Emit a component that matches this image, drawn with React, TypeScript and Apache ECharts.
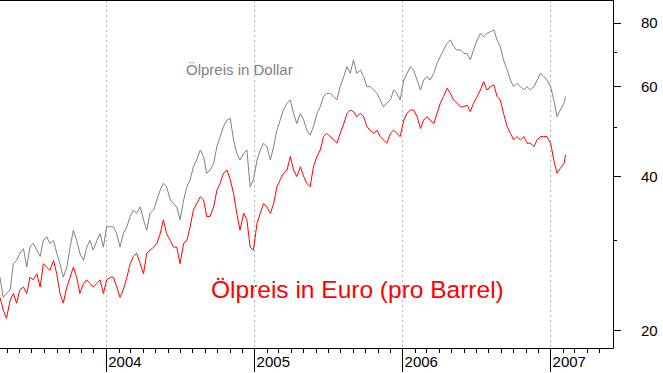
import React, { useEffect, useRef } from 'react';
import * as echarts from 'echarts';

// Sample dates: days after startDate
const startDate = '2003-04-14';
const axisStart = '2003-04-14';
const axisEnd = '2007-06-04';

const dayOffsets = [
  0, 8, 16, 25, 33, 41, 49, 58, 66, 74,
  82, 91, 99, 107, 115, 123, 132, 140, 148, 156,
  165, 173, 181, 189, 197, 206, 214, 222, 230, 239,
  247, 255, 263, 272, 280, 288, 296, 304, 313, 321,
  329, 337, 346, 354, 362, 370, 379, 387, 395, 403,
  411, 420, 428, 436, 444, 453, 461, 469, 477, 485,
  494, 502, 510, 518, 527, 535, 543, 551, 560, 568,
  576, 584, 592, 601, 609, 617, 625, 634, 642, 650,
  658, 667, 675, 683, 691, 699, 708, 716, 724, 732,
  741, 749, 757, 765, 773, 782, 790, 798, 806, 815,
  823, 831, 839, 848, 856, 864, 872, 880, 889, 897,
  905, 913, 922, 930, 938, 946, 954, 963, 971, 979,
  987, 996, 1004, 1012, 1020, 1029, 1037, 1045, 1053, 1061,
  1070, 1078, 1086, 1094, 1103, 1111, 1119, 1127, 1136, 1144,
  1152, 1160, 1168, 1177, 1185, 1193, 1201, 1210, 1218, 1226,
  1234, 1242, 1251, 1259, 1267, 1275, 1284, 1292, 1300, 1308,
  1317, 1325, 1333, 1341, 1349, 1358, 1366, 1374, 1382, 1391,
  1395,
];

const dollarPrices = [
  25.4, 23.2, 23.6, 24.0, 27.0, 27.4, 28.3, 28.9, 26.6, 29.1,
  29.6, 28.7, 27.9, 30.0, 30.5, 29.6, 30.0, 28.3, 27.0, 25.4,
  26.6, 29.1, 31.4, 30.0, 28.3, 27.4, 29.1, 30.0, 28.7, 30.0,
  30.9, 29.1, 31.9, 31.9, 31.9, 30.9, 29.1, 30.9, 31.9, 33.4,
  34.4, 33.9, 34.9, 32.9, 31.4, 33.9, 34.4, 36.0, 37.6, 38.8,
  38.2, 36.0, 35.4, 34.9, 32.9, 36.0, 38.2, 39.4, 41.8, 43.1,
  45.1, 43.8, 40.6, 41.2, 42.4, 45.8, 47.9, 50.1, 51.6, 52.0,
  47.2, 44.4, 43.1, 44.4, 45.1, 38.2, 39.4, 43.1, 45.1, 46.5,
  45.8, 43.1, 45.8, 49.3, 51.6, 54.0, 55.7, 56.5, 53.2, 50.8,
  53.2, 51.6, 49.3, 48.2, 50.1, 53.2, 54.8, 57.4, 58.2,
  58.2, 57.4, 56.5, 60.0, 62.8, 65.7, 63.7, 67.7, 63.7, 64.7,
  62.8, 60.0, 60.0, 59.1, 58.2, 56.5, 54.8, 55.7, 56.5, 59.1,
  58.2, 56.5, 61.8, 63.7, 65.7, 64.7, 61.8, 59.1, 61.8, 62.8,
  61.8, 63.7, 66.7, 68.7, 70.8, 73.0, 74.1, 71.9, 70.8, 70.8,
  69.7, 69.7, 67.7, 70.8, 74.1, 76.3, 75.2, 76.3, 76.9, 77.5,
  74.1, 71.9, 67.7, 64.7, 61.8, 60.0, 60.9, 60.0, 59.1, 60.0,
  59.1, 60.0, 61.8, 63.7, 62.8, 61.8, 60.0, 56.5, 52.4, 54.0,
  55.7, 57.4,
];

const euroPrices = [
  23.2, 21.9, 21.1, 22.9, 23.6, 22.6, 24.0, 24.3, 23.6, 25.4,
  25.1, 25.8, 24.3, 27.0, 26.6, 26.2, 27.4, 25.8, 23.6, 22.6,
  24.3, 25.4, 26.6, 25.4, 23.6, 24.7, 25.1, 24.7, 24.3, 24.7,
  25.1, 23.6, 25.1, 25.4, 25.4, 24.3, 23.2, 24.0, 25.4, 27.0,
  27.9, 28.3, 27.0, 25.8, 28.3, 28.7, 29.1, 29.6, 30.9, 32.9,
  30.9, 30.0, 29.1, 29.1, 27.0, 29.6, 30.0, 31.9, 34.4, 35.4,
  36.5, 36.0, 33.4, 33.4, 34.9, 37.6, 38.8, 40.6, 41.2, 39.4,
  37.1, 33.9, 31.4, 33.9, 32.9, 29.1, 28.7, 32.4, 33.9, 35.4,
  34.9, 33.9, 35.4, 38.2, 39.4, 40.6, 41.2, 43.8, 41.2, 40.0,
  41.8, 40.0, 38.8, 38.2, 41.8, 43.8, 45.1, 47.9, 48.6,
  47.9, 47.2, 46.5, 48.6, 50.8, 53.2, 54.0, 53.6, 52.4, 53.2,
  52.4, 50.1, 49.3, 48.6, 49.3, 47.9, 47.2, 46.5, 48.6, 49.3,
  48.6, 47.9, 51.6, 53.2, 54.0, 54.0, 52.4, 49.7, 51.6, 52.4,
  51.6, 50.8, 53.2, 55.7, 57.4, 59.6, 58.2, 56.5, 55.7, 54.8,
  54.8, 55.2, 53.6, 55.7, 57.4, 59.1, 61.4, 59.1, 60.0, 60.5,
  57.4, 56.5, 53.2, 50.1, 48.6, 47.2, 47.9, 47.2, 47.9, 46.5,
  46.5, 45.8, 47.2, 47.9, 47.9, 47.9, 46.5, 43.1, 40.6, 41.5,
  42.4, 44.1,
];

const yearTicks = ['2004-01-01', '2005-01-01', '2006-01-01', '2007-01-01'];
const monthTickRange = ['2003-05', '2007-05'];
const majorPriceTicks = [20, 40, 60, 80];
const minorPriceTicks = [30, 50, 70];
const priceMin = 18.46;
const priceMax = 88.7;
const dollarLabel = 'Ölpreis in Dollar';
const euroLabel = 'Ölpreis in Euro (pro Barrel)';

const DAY = 86400000;
const FONT = '"Liberation Sans", Arial, sans-serif';

function ts(s: string): number {
  const [y, m, d] = s.split('-').map(Number);
  return Date.UTC(y, (m || 1) - 1, d || 1);
}

function monthTicks(): number[] {
  const [sy, sm] = monthTickRange[0].split('-').map(Number);
  const [ey, em] = monthTickRange[1].split('-').map(Number);
  const out: number[] = [];
  let y = sy;
  let m = sm;
  while (y < ey || (y === ey && m <= em)) {
    if (m !== 1) out.push(Date.UTC(y, m - 1, 1));
    m++;
    if (m > 12) { m = 1; y++; }
  }
  return out;
}

export default function App() {
  const ref = useRef<HTMLDivElement>(null);

  useEffect(() => {
    if (!ref.current) return;
    const chart = echarts.init(ref.current, undefined, { renderer: 'svg' });
    const start = ts(startDate);
    const xMin = ts(axisStart);
    const xMax = ts(axisEnd);
    const years = yearTicks.map(ts);

    const dollarData = dayOffsets.map((d, i) => [start + d * DAY, dollarPrices[i]]);
    const euroData = dayOffsets.map((d, i) => [start + d * DAY, euroPrices[i]]);

    chart.setOption({
      animation: false,
      backgroundColor: '#ffffff',
      grid: {
        left: 0,
        top: 0,
        right: 50,
        bottom: 25,
        containLabel: false,
        outerBoundsMode: 'none',
      },
      xAxis: [
        {
          type: 'value',
          position: 'bottom',
          min: xMin,
          max: xMax,
          axisLine: { show: true, lineStyle: { color: '#000', width: 1 } },
          axisTick: { show: true, customValues: monthTicks(), length: 5, lineStyle: { color: '#000', width: 1 } },
          axisLabel: { show: false },
          splitLine: { show: false },
        },
        {
          type: 'value',
          position: 'bottom',
          min: xMin,
          max: xMax,
          axisLine: { show: false },
          axisTick: { show: true, customValues: years, length: 24, lineStyle: { color: '#000', width: 1 } },
          axisLabel: {
            show: true,
            customValues: years,
            formatter: (v: number) => String(new Date(v).getUTCFullYear()),
            align: 'left',
            padding: [0, 0, 0, 2],
            margin: 6,
            color: '#000',
            fontSize: 15,
            fontFamily: FONT,
          },
          splitLine: { show: true, lineStyle: { color: '#b4b4b4', width: 1, type: [2, 3] } },
        },
        {
          type: 'value',
          position: 'top',
          min: xMin,
          max: xMax,
          axisLine: { show: true, lineStyle: { color: '#000', width: 1 } },
          axisTick: { show: false },
          axisLabel: { show: false },
          splitLine: { show: false },
        },
      ],
      yAxis: [
        {
          type: 'log',
          logBase: 10,
          position: 'right',
          min: priceMin,
          max: priceMax,
          axisLine: { show: true, lineStyle: { color: '#000', width: 1 } },
          axisTick: { show: true, customValues: majorPriceTicks, length: 8, lineStyle: { color: '#000', width: 1 } },
          axisLabel: {
            show: true,
            customValues: majorPriceTicks,
            margin: 28,
            color: '#000',
            fontSize: 15,
            fontFamily: FONT,
          },
          splitLine: { show: false },
          minorTick: { show: false },
        },
        {
          type: 'log',
          logBase: 10,
          position: 'right',
          min: priceMin,
          max: priceMax,
          axisLine: { show: false },
          axisTick: { show: true, customValues: minorPriceTicks, length: 4, lineStyle: { color: '#000', width: 1 } },
          axisLabel: { show: false },
          splitLine: { show: false },
        },
      ],
      series: [
        {
          name: dollarLabel,
          type: 'line',
          xAxisIndex: 0,
          yAxisIndex: 0,
          data: dollarData,
          showSymbol: false,
          symbol: 'none',
          lineStyle: { color: '#808080', width: 1 },
          z: 2,
        },
        {
          name: euroLabel,
          type: 'line',
          xAxisIndex: 0,
          yAxisIndex: 0,
          data: euroData,
          showSymbol: false,
          symbol: 'none',
          lineStyle: { color: '#ff0000', width: 1 },
          z: 3,
        },
      ],
      graphic: [
        {
          type: 'text',
          x: 186,
          y: 69,
          style: {
            text: dollarLabel,
            fill: '#808080',
            fontSize: 15,
            fontFamily: FONT,
            align: 'left',
            verticalAlign: 'middle',
          },
        },
        {
          type: 'text',
          x: 211,
          y: 289,
          style: {
            text: euroLabel,
            fill: '#ff0000',
            fontSize: 24.5,
            fontFamily: FONT,
            align: 'left',
            verticalAlign: 'middle',
          },
        },
      ],
    });

    return () => chart.dispose();
  }, []);

  return (
    <div
      ref={ref}
      style={{ position: 'fixed', left: 0, top: 0, width: 663, height: 373, background: '#fff' }}
    />
  );
}
